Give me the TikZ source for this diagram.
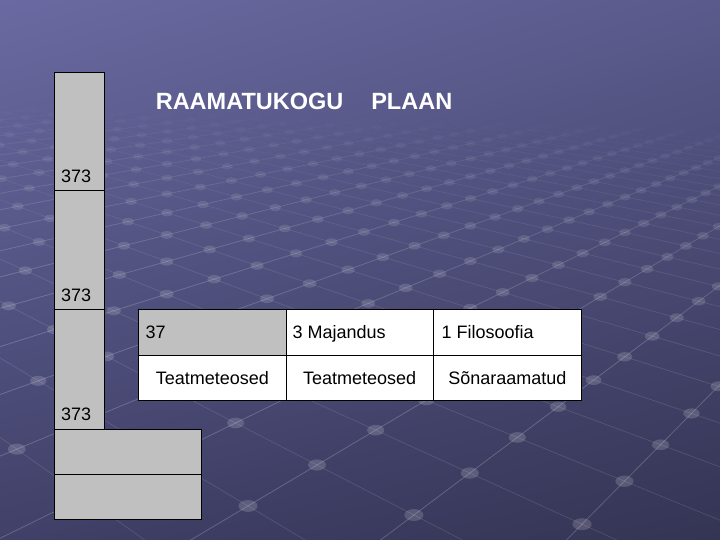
\documentclass[tikz,border=0pt]{standalone}
\usepackage{fontspec}
\setmainfont{Liberation Sans}
\usetikzlibrary{shadings}
\definecolor{cellgray}{RGB}{192,192,192}
\definecolor{bgUL}{RGB}{106,106,162}
\definecolor{bgUR}{RGB}{90,90,140}
\definecolor{bgLL}{RGB}{64,64,104}
\definecolor{bgLR}{RGB}{52,52,84}
\def\al{0.081}
\def\be{0.087}
\def\Ox{317}\def\Oy{465}
\def\VAx{1100}\def\VAy{0}
\def\VBx{-700}\def\VBy{-60}
\newcommand\gridpt[3]{%
  \pgfmathsetmacro\gwt{1+(#1)*\al+(#2)*\be}%
  \pgfmathsetmacro\gx{(\Ox+(#1)*\al*\VAx+(#2)*\be*\VBx)/\gwt}%
  \pgfmathsetmacro\gy{(\Oy+(#1)*\al*\VAy+(#2)*\be*\VBy)/\gwt}%
  \coordinate (#3) at (\gx,\gy);}
\tikzset{
  cell/.style={draw=black, line width=0.9pt},
  lbl/.style={inner sep=0pt, anchor=base west, font=\fontsize{18}{20}\selectfont},
  clbl/.style={inner sep=0pt, anchor=base, font=\fontsize{18}{20}\selectfont}
}
\begin{document}
\begin{tikzpicture}[x=1pt,y=-1pt]
\useasboundingbox (0,0) rectangle (720,540);
\shade[upper left=bgUL, upper right=bgUR, lower left=bgLL, lower right=bgLR] (0,0) rectangle (720,540);
\begin{scope}
\clip (0,0) rectangle (720,540);
\foreach \u in {-9,...,30}{\foreach \v in {-9,...,30}{
  \pgfmathsetmacro\gw{1+\u*\al+\v*\be}
  \pgfmathtruncatemacro\ok{(\gw>0.45)&&(\gw<3.5)}
  \ifnum\ok=1
    \pgfmathsetmacro\op{0.2*min(1,(3.5-\gw)/2.2)}
    \pgfmathsetmacro\opb{0.6*\op}
    \pgfmathsetmacro\rx{3+6/\gw}
    \pgfmathsetmacro\ry{0.62*\rx}
    \gridpt{\u}{\v}{p}
    \gridpt{\u+1}{\v}{pa}
    \gridpt{\u}{\v+1}{pb}
    \draw[white, opacity=\op, line width=0.8pt] (pa) -- (p);
    \draw[white, opacity=\opb, line width=0.7pt] (p) -- (pb);
    \fill[white, opacity=\op*0.8] (p) ellipse [x radius=\rx pt, y radius=\ry pt];
  \fi
}}
\end{scope}
% left column
\filldraw[cell, fill=cellgray] (54,72) rectangle (104.5,190.7);
\filldraw[cell, fill=cellgray] (54,190.7) rectangle (104.5,309.7);
\filldraw[cell, fill=cellgray] (54,309.7) rectangle (104.5,429);
% bottom block
\filldraw[cell, fill=cellgray] (54,429) rectangle (201,474.8);
\filldraw[cell, fill=cellgray] (54,474.8) rectangle (201,519.7);
% table
\filldraw[cell, fill=cellgray] (138.7,309.7) rectangle (286,355.9);
\filldraw[cell, fill=white] (286,309.7) rectangle (433.4,355.9);
\filldraw[cell, fill=white] (433.4,309.7) rectangle (581.3,355.9);
\filldraw[cell, fill=white] (138.7,355.9) rectangle (286,400.3);
\filldraw[cell, fill=white] (286,355.9) rectangle (433.4,400.3);
\filldraw[cell, fill=white] (433.4,355.9) rectangle (581.3,400.3);
% texts
\node[anchor=base west, inner sep=0pt, text=white, font=\bfseries\fontsize{23.5}{26}\selectfont] (title) at (155.6,109.3) {RAAMATUKOGU\hspace{28pt}PLAAN};
\node[lbl] (a1) at (61,182.7) {373};
\node[lbl] (a2) at (61,301.7) {373};
\node[lbl] (a3) at (61,420.7) {373};
\node[lbl] (t1) at (145.5,338.3) {37};
\node[lbl] (t2) at (292.5,338.3) {3 Majandus};
\node[lbl] (t3) at (441.5,338.3) {1 Filosoofia};
\node[clbl] (b1) at (212.3,384) {Teatmeteosed};
\node[clbl] (b2) at (359.7,384) {Teatmeteosed};
\node[clbl] (b3) at (507.3,384) {Sõnaraamatud};
\end{tikzpicture}
\end{document}
